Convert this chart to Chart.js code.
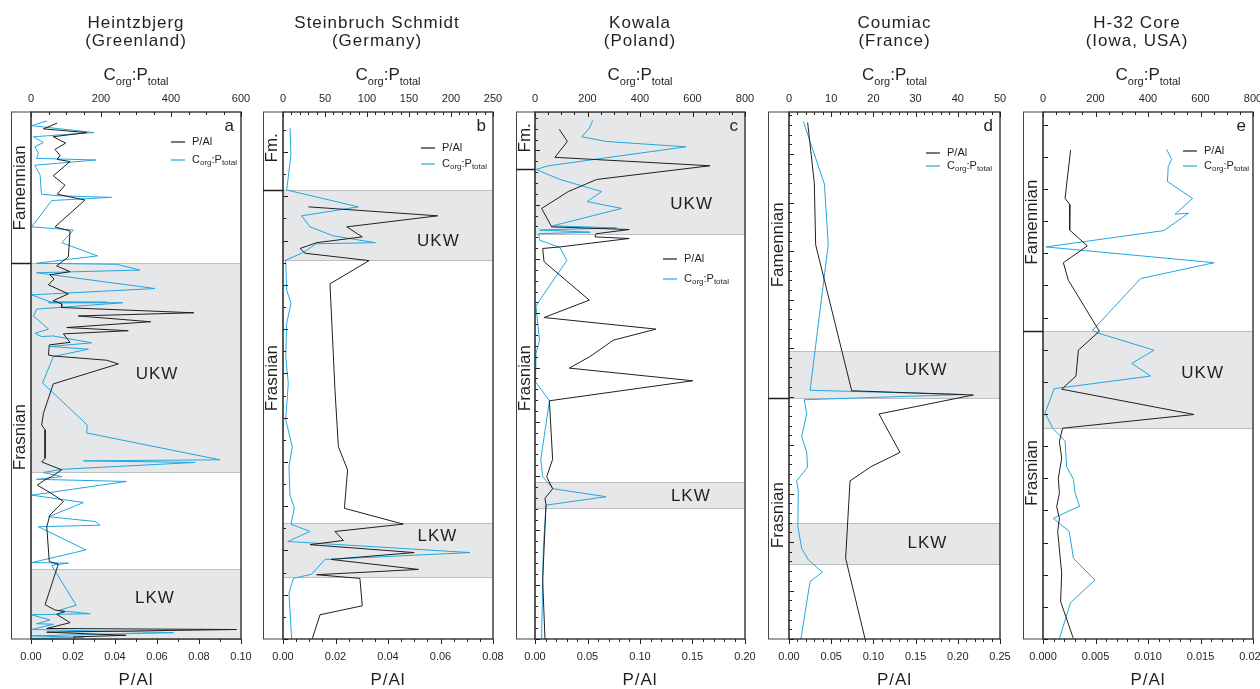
<!DOCTYPE html>
<html>
<head>
<meta charset="utf-8">
<title>P/Al and Corg:Ptotal profiles</title>
<script src="https://cdn.jsdelivr.net/npm/chart.js@4.4.1/dist/chart.umd.min.js"></script>
<style>
body{margin:0;background:#fff;}
#wrap{position:relative;width:1260px;height:689px;overflow:hidden;background:#fff;}
canvas{position:absolute;top:0;}
</style>
</head>
<body>
<div id="wrap"></div>
<script>
// sites
const sites = ['Heintzbjerg', 'Steinbruch Schmidt', 'Kowala', 'Coumiac', 'H-32 Core'];
const regions = ['(Greenland)', '(Germany)', '(Poland)', '(France)', '(Iowa, USA)'];
const letters = ['a', 'b', 'c', 'd', 'e'];

// axis ranges / tick labels
const pAlMax = [0.10, 0.08, 0.20, 0.25, 0.02];
const pAlStep = [0.02, 0.02, 0.05, 0.05, 0.005];
const pAlMinor = [0.01, 0.005, 0.01, 0.01, 0.001];
const pAlDec = [2, 2, 2, 2, 3];
const cpMax = [600, 250, 800, 50, 800];
const cpStep = [200, 50, 200, 10, 200];
const cpMinor = [50, 10, 50, 2, 50];

// stratigraphic height (relative, 0 = base of section) and values
// Heintzbjerg
const hzPAlH = [97.9,96.8,96.1,95.3,94.1,92.9,91.8,91.0,90.6,87.9,86.1,84.4,83.3,78.2,77.4,72.5,70.8,69.7,69.1,68.3,67.2,65.5,64.2,63.6,62.9,61.9,61.3,60.2,59.1,58.5,57.9,56.3,55.8,53.9,53.7,52.9,52.2,48.4,42.8,40.6,39.7,34.3,33.6,32.1,30.8,30.2,29.2,27.6,26.1,23.5,21.3,14.7,14.2,6.5,5.5,5.2,4.7,3.1,2.0,1.8,1.3,0.7,0.4,0.1];
const hzPAl = [0.0125,0.0059,0.0265,0.0106,0.0165,0.0114,0.0138,0.0125,0.0186,0.0106,0.0162,0.0125,0.0257,0.0114,0.0186,0.0178,0.0122,0.0186,0.0090,0.0110,0.0083,0.0178,0.0106,0.0146,0.0146,0.0776,0.0225,0.0570,0.0170,0.0463,0.0154,0.0186,0.0087,0.0083,0.0106,0.0360,0.0416,0.0106,0.0059,0.0051,0.0067,0.0067,0.0051,0.0146,0.0098,0.0067,0.0030,0.0098,0.0154,0.0090,0.0075,0.0087,0.0130,0.0067,0.0114,0.0162,0.0122,0.0186,0.0075,0.0979,0.0075,0.0452,0.0202,0.0210];
const hzCPH = [98.3,97.4,96.1,95.3,94.2,93.4,92.2,91.2,90.9,89.9,88.0,84.4,84.1,83.8,83.2,78.2,77.6,75.2,72.7,71.3,71.1,70.0,69.5,66.5,65.3,64.0,63.9,63.8,63.8,62.6,61.2,60.5,58.8,58.0,57.4,57.5,56.2,55.5,55.0,53.6,48.6,40.6,39.1,34.0,33.8,33.5,32.2,31.6,30.8,30.3,29.9,27.3,25.9,23.2,22.3,21.6,21.3,16.9,14.5,14.4,14.0,6.4,5.4,4.8,4.6,3.6,2.9,2.8,1.8,1.2,0.6,0.3,0.1];
const hzCP = [45,2,180,7,35,11,21,16,186,11,26,30,78,230,59,2,121,88,190,16,245,311,16,354,2,54,218,50,262,16,7,21,50,11,30,64,173,54,164,64,33,161,159,540,150,469,88,35,88,16,273,2,150,50,183,197,21,157,2,107,59,129,78,169,2,54,16,64,2,407,2,150,2];
// Steinbruch Schmidt
const ssPAlH = [82.0,80.3,78.2,76.3,75.2,74.1,73.2,71.8,67.4,47.2,36.5,32.1,24.8,21.8,20.4,18.7,17.9,16.4,15.1,13.2,12.2,11.5,6.3,4.6,0.1];
const ssPAl = [0.0097,0.0589,0.0243,0.0302,0.0128,0.0065,0.0084,0.0328,0.0179,0.0198,0.0211,0.0246,0.0234,0.0458,0.0198,0.0230,0.0103,0.0500,0.0183,0.0516,0.0128,0.0293,0.0302,0.0141,0.0112];
const ssCPH = [96.9,91.8,85.2,82.0,80.3,78.2,76.5,75.2,75.0,73.9,73.2,71.9,66.2,63.7,59.9,53.6,48.5,41.6,36.5,32.7,27.3,24.8,21.8,20.4,18.5,16.4,15.1,12.3,11.5,8.7,5.5,0];
const ssCP = [8.3,9.5,4.4,89.7,22.2,32.1,59.9,110,39.3,29.4,22.2,3.2,4.4,9.5,4.4,3.2,6.3,3.2,11.1,7.1,8.3,13.5,9.5,32.1,5.6,222.6,50,34.1,12.3,7.1,8.3,10.3];
// Kowala
const kwPAlH = [96.7,94.4,91.4,89.8,87.2,84.9,81.7,78.2,77.7,76.9,76.3,76.0,74.4,74.1,71.6,64.3,61.0,58.8,56.7,53.6,51.4,49.0,45.2,34.1,30.8,28.5,26.7,25.4,11.2,0];
const kwPAl = [0.0232,0.0308,0.0190,0.1667,0.0587,0.0317,0.0063,0.0159,0.0898,0.0581,0.0571,0.0898,0.0238,0.0073,0.0086,0.0517,0.0086,0.1152,0.0746,0.0524,0.0327,0.1502,0.0137,0.0168,0.0111,0.0168,0.0095,0.0105,0.0073,0.0095];
const kwCPH = [98.4,96.9,95.3,94.4,93.4,89.8,89.1,87.2,84.9,83.0,81.7,78.4,78.0,77.6,77.2,76.9,75.7,74.3,71.8,64.6,63.1,56.7,54.2,48.8,45.2,34.1,30.8,28.5,27.0,25.4,17.5,0];
const kwCP = [220,207,178,273,575,51,4,95,254,199,330,67,311,17,210,14,17,95,121,22,4,17,4,2,55,22,29,70,271,42,32,25];
// Coumiac
const cmPAlH = [98.0,86.5,74.8,47.1,46.3,42.7,35.4,32.7,30.0,15.3,0.1];
const cmPAl = [0.0221,0.0300,0.0316,0.0743,0.2184,0.1066,0.1315,0.0972,0.0723,0.0671,0.0900];
const cmCPH = [98.2,86.3,74.8,47.2,46.4,45.4,42.8,38.4,35.5,32.6,30.0,28.3,21.3,17.2,15.0,12.7,10.9,0];
const cmCP = [3.4,8.4,9.3,5.0,41.5,3.6,4.2,3.0,4.2,4.4,1.8,2.2,2.1,3.0,4.6,7.9,5.0,2.8];
// H-32 Core
const h32PAlH = [92.8,83.6,82.4,80.6,77.6,74.6,71.4,68.1,58.4,54.8,49.9,47.4,42.6,40.0,37.5,34.3,30.5,27.6,25.1,22.9,20.4,12.5,7.1,0.1];
const h32PAl = [0.00263,0.00210,0.00257,0.00251,0.00257,0.00422,0.00194,0.00241,0.00537,0.00337,0.00314,0.00178,0.01438,0.00187,0.00156,0.00178,0.00146,0.00156,0.00130,0.00156,0.00140,0.00178,0.00168,0.00289];
const h32CPH = [92.9,91.0,89.6,86.8,83.6,80.6,80.8,77.5,74.4,71.4,68.4,58.6,58.1,54.8,52.3,49.9,47.5,42.9,40.0,37.6,32.7,30.3,27.8,25.2,22.9,20.4,15.3,11.2,6.9,0];
const h32CP = [471,490,477,474,570,503,554,461,11,652,372,189,207,423,338,410,43,8,37,84,90,116,122,139,39,100,116,198,105,62];

// intervals: [name, top height, base height]
const hzBands = [['UKW', 71.3, 31.7], ['LKW', 13.3, 0]];
const ssBands = [['UKW', 85.2, 72.0], ['LKW', 22.0, 11.7]];
const kwBands = [['UKW', 100, 76.8], ['LKW', 29.7, 24.9]];
const cmBands = [['UKW', 54.6, 45.7], ['LKW', 22.0, 14.2]];
const h32Bands = [['UKW', 58.4, 40.1]];

// Famennian/Frasnian boundary height
const stageBoundary = [71.3, 85.2, 89.2, 45.7, 58.4];
const upperStage = ['Famennian', 'Fm.', 'Fm.', 'Famennian', 'Famennian'];
const lowerStage = ['Frasnian', 'Frasnian', 'Frasnian', 'Frasnian', 'Frasnian'];

const pAlH = [hzPAlH, ssPAlH, kwPAlH, cmPAlH, h32PAlH];
const pAl = [hzPAl, ssPAl, kwPAl, cmPAl, h32PAl];
const cpH = [hzCPH, ssCPH, kwCPH, cmCPH, h32CPH];
const cp = [hzCP, ssCP, kwCP, cmCP, h32CP];
const bands = [hzBands, ssBands, kwBands, cmBands, h32Bands];

// page layout of each panel
const layout = [
  {left: 11, yw: 20, pw: 210, tdx: 0, upLab: 85.6, lowLab: 38.3, bandLab: [[0.60, 50.2], [0.59, 7.8]], leg: [140, 30, 18], yMajor: 0, yMinor: 0},
  {left: 263, yw: 20, pw: 210, tdx: -11, upLab: 93.2, lowLab: 49.5, bandLab: [[0.74, 75.4], [0.735, 19.4]], leg: [138, 36, 16], yMajor: 8.4, yMinor: 4.2},
  {left: 516, yw: 19, pw: 210, tdx: 0, upLab: 95.1, lowLab: 49.5, bandLab: [[0.746, 82.4], [0.742, 27.0]], leg: [128, 147, 20], yMajor: 10.3, yMinor: 2.06},
  {left: 768, yw: 21, pw: 211, tdx: 0, upLab: 74.8, lowLab: 23.5, bandLab: [[0.65, 51.0], [0.656, 18.2]], leg: [137, 41, 13], yMajor: 9.2, yMinor: 1.84},
  {left: 1023, yw: 20, pw: 210, tdx: -11, upLab: 79.1, lowLab: 31.5, bandLab: [[0.76, 50.5]], leg: [140, 39, 15], yMajor: 6.1, yMinor: 6.1}
];

const FF = '"Liberation Sans", Arial, Helvetica, sans-serif';
const INK = '#231f20';
const BLUE = '#23a7e0';
Chart.defaults.font.family = FF;
Chart.defaults.color = INK;

function hline(ctx, x1, x2, y) { ctx.beginPath(); ctx.moveTo(x1, y); ctx.lineTo(x2, y); ctx.stroke(); }
function vline(ctx, x, y1, y2) { ctx.beginPath(); ctx.moveTo(x, y1); ctx.lineTo(x, y2); ctx.stroke(); }

// text with subscripts: parts = [text, size, dy]
function richText(ctx, parts, x, y, align) {
  let w = 0;
  parts.forEach(p => { ctx.font = p[1] + 'px ' + FF; w += ctx.measureText(p[0]).width; });
  let cx = align === 'center' ? x - w / 2 : x;
  ctx.textAlign = 'left';
  parts.forEach(p => {
    ctx.font = p[1] + 'px ' + FF;
    ctx.fillText(p[0], cx, y + p[2]);
    cx += ctx.measureText(p[0]).width;
  });
}

const deco = {
  id: 'deco',
  beforeDatasetsDraw(chart, args, o) {
    const ctx = chart.ctx, a = chart.chartArea, y = chart.scales.y;
    ctx.save();
    o.bands.forEach((b, i) => {
      const t = Math.round(y.getPixelForValue(b[1])) + 0.5;
      const bt = Math.round(y.getPixelForValue(b[2])) + 0.5;
      ctx.fillStyle = '#e6e7e8';
      ctx.fillRect(a.left, t, a.right - a.left, bt - t);
      ctx.strokeStyle = '#bcbec0';
      ctx.lineWidth = 1;
      hline(ctx, a.left, a.right, t);
      hline(ctx, a.left, a.right, bt);
      const lp = o.bandLab[i];
      ctx.fillStyle = INK;
      ctx.font = '17px ' + FF;
      ctx.letterSpacing = '1px';
      ctx.textAlign = 'center';
      ctx.textBaseline = 'middle';
      ctx.fillText(b[0], a.left + lp[0] * (a.right - a.left), y.getPixelForValue(lp[1]));
    });
    ctx.restore();
  },
  afterDraw(chart, args, o) {
    const ctx = chart.ctx, a = chart.chartArea;
    const y = chart.scales.y, xb = chart.scales.x, xt = chart.scales.x2;
    ctx.save();
    ctx.strokeStyle = INK;
    ctx.fillStyle = INK;
    ctx.lineWidth = 1;

    // tick marks
    const tickRow = (sc, max, major, minor, y0) => {
      const n = Math.round(max / minor), r = Math.round(major / minor);
      for (let i = 0; i <= n; i++) {
        const px = Math.round(sc.getPixelForValue(i * minor)) + 0.5;
        vline(ctx, px, y0, y0 + (i % r === 0 ? 5 : 3));
      }
    };
    tickRow(xt, o.cMax, o.cStep, o.cMinor, a.top);
    tickRow(xb, o.pMax, o.pStep, o.pMinor, a.bottom);
    if (o.yMinor) {
      const r = Math.round(o.yMajor / o.yMinor);
      for (let i = 0; i * o.yMinor <= 100; i++) {
        const py = Math.round(y.getPixelForValue(i * o.yMinor)) + 0.5;
        hline(ctx, a.left, a.left + (i % r === 0 ? 5 : 3), py);
      }
    }

    // frame
    ctx.lineWidth = 1.3;
    ctx.strokeRect(a.left, a.top, a.right - a.left, a.bottom - a.top);
    // stage column
    ctx.lineWidth = 1;
    ctx.strokeStyle = '#444';
    ctx.strokeRect(0.5, a.top, a.left - 0.5, a.bottom - a.top);
    ctx.strokeStyle = INK;
    ctx.lineWidth = 1.5;
    hline(ctx, 0, a.left, Math.round(y.getPixelForValue(o.boundary)) + 0.5);
    ctx.font = '17px ' + FF;
    ctx.textAlign = 'center';
    ctx.textBaseline = 'middle';
    [[o.upper, o.upLab], [o.lower, o.lowLab]].forEach(s => {
      ctx.save();
      ctx.translate(a.left / 2 - 0.5, y.getPixelForValue(s[1]));
      ctx.rotate(-Math.PI / 2);
      ctx.fillText(s[0], 0, 0);
      ctx.restore();
    });

    // legend
    const X = a.left + o.leg[0], Y = a.top + o.leg[1], g = o.leg[2];
    ctx.lineWidth = 1.2;
    ctx.strokeStyle = INK;
    hline(ctx, X, X + 14, Y);
    ctx.strokeStyle = BLUE;
    hline(ctx, X, X + 14, Y + g);
    ctx.textBaseline = 'middle';
    richText(ctx, [['P/Al', 11, 0]], X + 21, Y, 'left');
    richText(ctx, [['C', 11, 0], ['org', 8, 3], [':P', 11, 0], ['total', 8, 3]], X + 21, Y + g, 'left');

    // panel letter
    ctx.textBaseline = 'alphabetic';
    ctx.textAlign = 'right';
    ctx.font = '17px ' + FF;
    ctx.fillText(o.letter, a.right - 7, a.top + 19);

    // titles
    const cx = (a.left + a.right) / 2;
    ctx.textAlign = 'center';
    ctx.letterSpacing = '1px';
    ctx.fillText(o.site, cx + o.tdx, 28);
    ctx.fillText(o.region, cx + o.tdx, 46);
    ctx.fillText('P/Al', cx, 685);
    ctx.letterSpacing = '0px';
    richText(ctx, [['C', 17, 0], ['org', 11, 5], [':P', 17, 0], ['total', 11, 5]], cx, 80, 'center');
    ctx.restore();
  }
};

function pts(hs, vs) {
  const out = [];
  for (let i = 0; i < Math.min(hs.length, vs.length); i++) out.push({x: vs[i], y: hs[i]});
  return out;
}

const wrap = document.getElementById('wrap');

for (let i = 0; i < 5; i++) {
  const L = layout[i];
  const W = L.yw + L.pw + 22;
  const cv = document.createElement('canvas');
  cv.width = W;
  cv.height = 689;
  cv.style.left = L.left + 'px';
  cv.style.width = W + 'px';
  cv.style.height = '689px';
  wrap.appendChild(cv);

  new Chart(cv, {
    type: 'scatter',
    data: {
      datasets: [
        {label: 'P/Al', data: pts(pAlH[i], pAl[i]), xAxisID: 'x', yAxisID: 'y', showLine: true,
         borderColor: INK, backgroundColor: INK, borderWidth: 1, pointRadius: 0, tension: 0},
        {label: 'Corg:Ptotal', data: pts(cpH[i], cp[i]), xAxisID: 'x2', yAxisID: 'y', showLine: true,
         borderColor: BLUE, backgroundColor: BLUE, borderWidth: 1, pointRadius: 0, tension: 0}
      ]
    },
    options: {
      responsive: false,
      animation: false,
      devicePixelRatio: 1,
      layout: {padding: {left: 0, right: 22, top: 0, bottom: 0}},
      plugins: {
        legend: {display: false},
        title: {display: false},
        tooltip: {enabled: false},
        deco: {
          bands: bands[i], bandLab: L.bandLab, boundary: stageBoundary[i],
          upper: upperStage[i], lower: lowerStage[i], upLab: L.upLab, lowLab: L.lowLab,
          leg: L.leg, letter: letters[i], site: sites[i], region: regions[i], tdx: L.tdx,
          pMax: pAlMax[i], pStep: pAlStep[i], pMinor: pAlMinor[i],
          cMax: cpMax[i], cStep: cpStep[i], cMinor: cpMinor[i],
          yMajor: L.yMajor, yMinor: L.yMinor
        }
      },
      scales: {
        x: {
          type: 'linear', position: 'bottom', min: 0, max: pAlMax[i],
          ticks: {stepSize: pAlStep[i], callback: v => v.toFixed(pAlDec[i]), padding: 11,
                  font: {size: 11}, color: INK, maxRotation: 0, autoSkip: false},
          grid: {display: false, drawTicks: false},
          border: {display: false},
          afterFit: s => { s.height = 50; s.paddingLeft = 0; s.paddingRight = 0; }
        },
        x2: {
          type: 'linear', position: 'top', min: 0, max: cpMax[i],
          ticks: {stepSize: cpStep[i], padding: 6, font: {size: 11}, color: INK, maxRotation: 0, autoSkip: false},
          grid: {display: false, drawTicks: false},
          border: {display: false},
          afterFit: s => { s.height = 112; s.paddingLeft = 0; s.paddingRight = 0; }
        },
        y: {
          type: 'linear', min: 0, max: 100,
          ticks: {display: false},
          grid: {display: false, drawTicks: false},
          border: {display: false},
          afterFit: s => { s.width = L.yw; }
        }
      }
    },
    plugins: [deco]
  });
}
</script>
</body>
</html>
